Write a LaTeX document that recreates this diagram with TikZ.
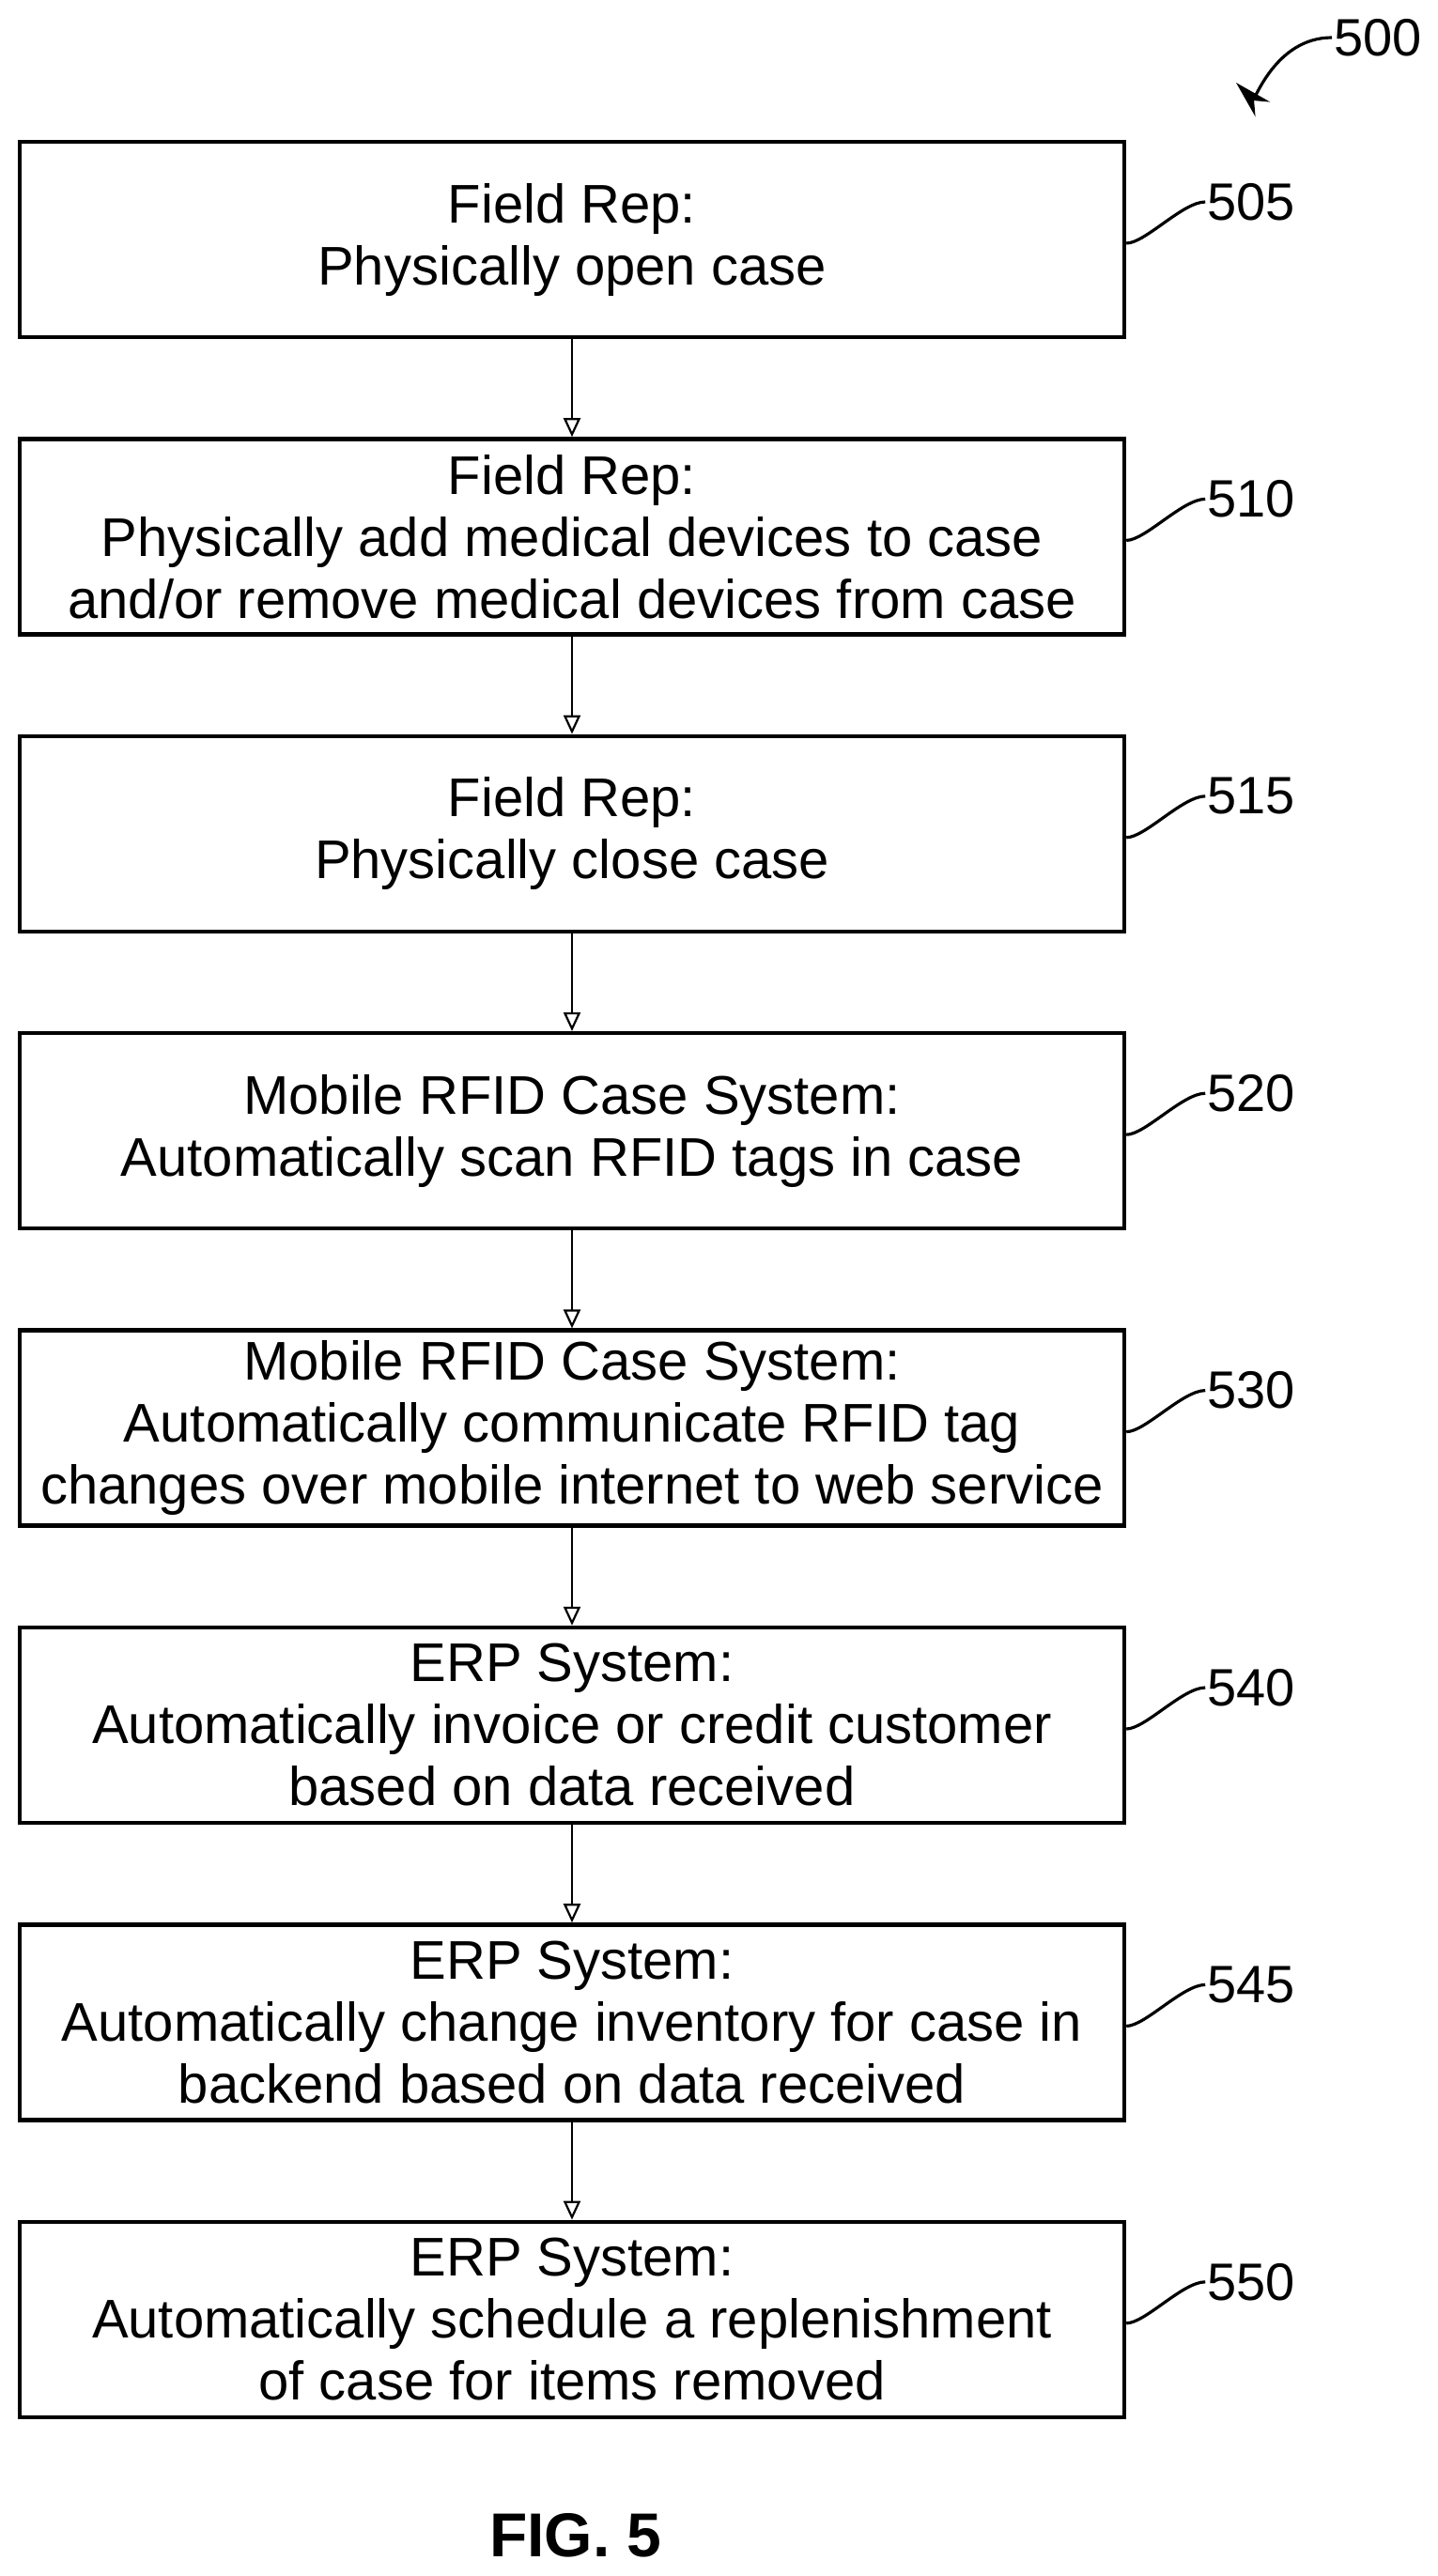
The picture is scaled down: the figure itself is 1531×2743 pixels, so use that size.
\documentclass[tikz,border=0pt]{standalone}
\usepackage{fontspec}
\setmainfont{Liberation Sans}
\usetikzlibrary{arrows.meta,positioning}
\tikzset{
  stage/.style={draw, line width=2.2pt, minimum width=588pt, minimum height=104pt,
    align=center, font=\fontsize{29}{33}\selectfont, inner sep=2pt},
  flow/.style={-{Triangle[open,length=10pt,width=9pt]}, line width=1.1pt},
  ref/.style={font=\fontsize{28}{32}\selectfont, anchor=west, inner sep=1pt},
  lead/.style={line width=1.6pt},
}
\begin{document}
\begin{tikzpicture}[x=0.5pt,y=-0.5pt, node distance=52pt]
\useasboundingbox (0,0) rectangle (1531,2743);
\node [stage] (s505) at (609,255) {Field Rep:\\Physically open case};
\node [stage, below=of s505] (s510) {Field Rep:\\Physically add medical devices to case\\and/or remove medical devices from case};
\node [stage, below=of s510] (s515) {Field Rep:\\Physically close case};
\node [stage, below=of s515] (s520) {Mobile RFID Case System:\\Automatically scan RFID tags in case};
\node [stage, below=of s520] (s530) {Mobile RFID Case System:\\Automatically communicate RFID tag\\changes over mobile internet to web service};
\node [stage, below=of s530] (s540) {ERP System:\\Automatically invoice or credit customer\\based on data received};
\node [stage, below=of s540] (s545) {ERP System:\\Automatically change inventory for case in\\backend based on data received};
\node [stage, below=of s545] (s550) {ERP System:\\Automatically schedule a replenishment\\of case for items removed};
% connectors
\foreach \a/\b in {s505/s510,s510/s515,s515/s520,s520/s530,s530/s540,s540/s545,s545/s550}
  \draw [flow] (\a) -- (\b);
% reference numerals
\foreach \n in {505,510,515,520,530,540,545,550} {
  \node [ref] (l\n) at ([xshift=42pt,yshift=20pt]s\n.east) {\n};
  \draw [lead] ([yshift=-2pt]s\n.east) .. controls +(10pt,0pt) and +(-12pt,0pt) .. (l\n.west);
}
\node [ref] (l500) at (1418,40) {500};
\coordinate (t500) at (1316,88);
\draw [lead, -{Stealth[length=20pt,width=11pt]}] (l500.west) .. controls +(-30pt,0pt) and +(10pt,-10pt) .. (t500);
\node [font=\bfseries\fontsize{33}{38}\selectfont] (fig) at (613,2700) {FIG. 5};
\end{tikzpicture}
\end{document}
